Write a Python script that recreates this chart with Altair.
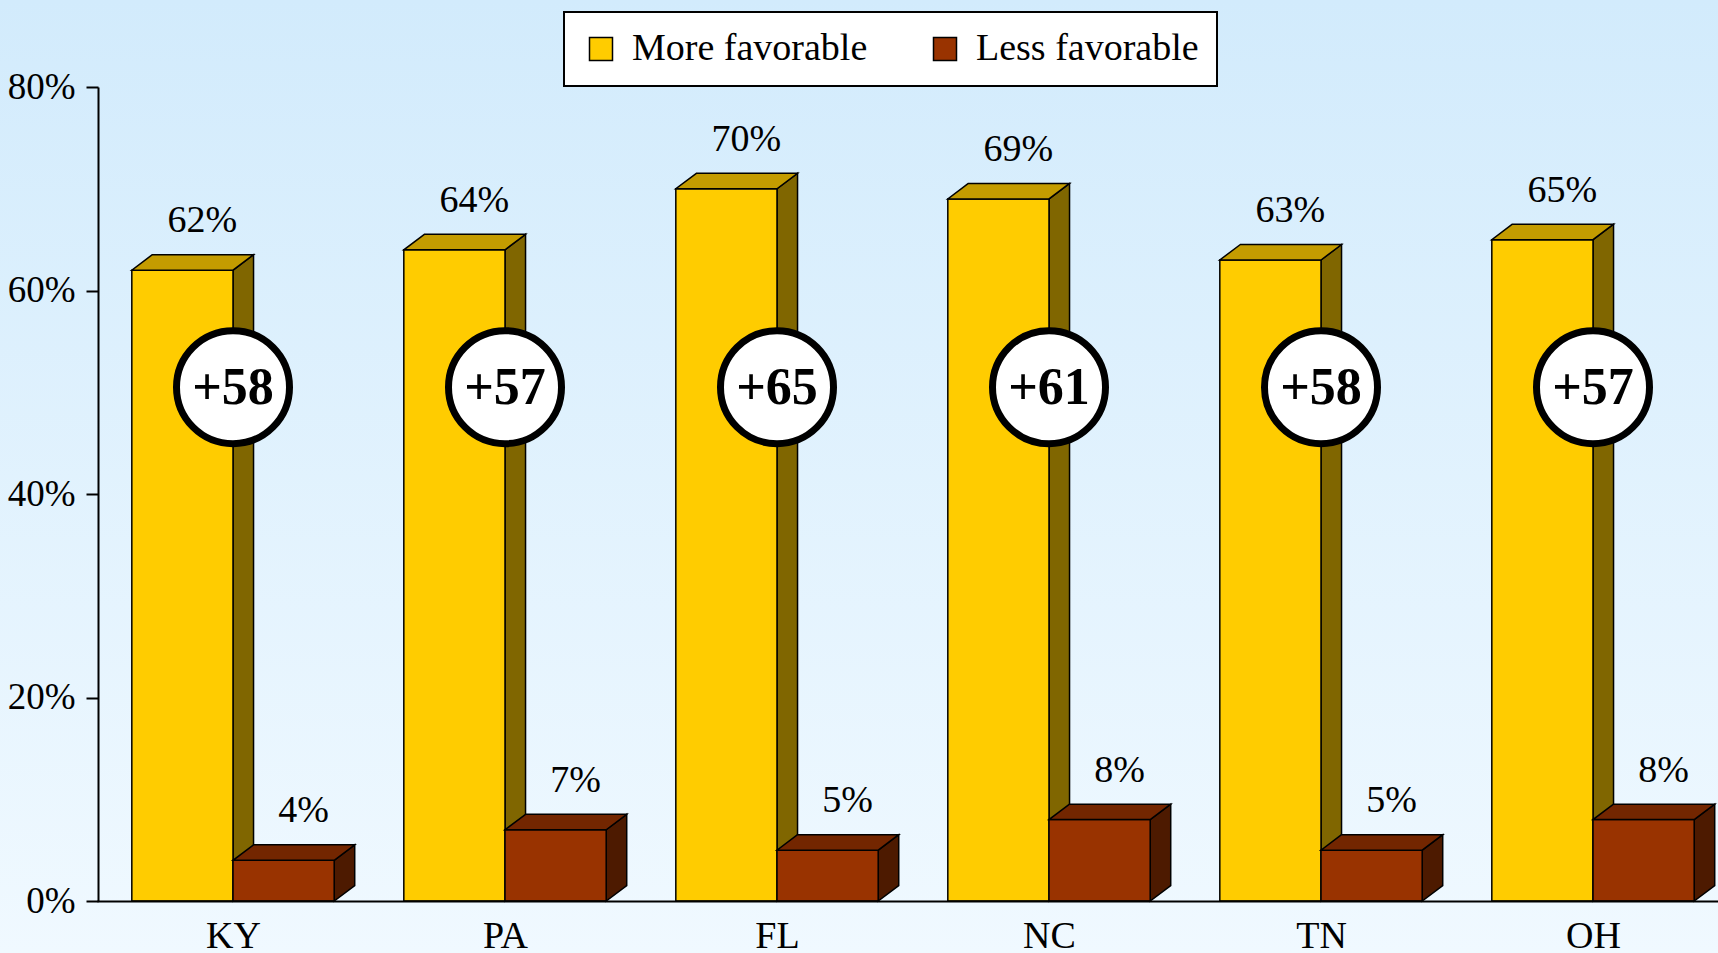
import json

import altair as alt
import pandas as pd

# ---- data -------------------------------------------------------------
states = ["KY", "PA", "FL", "NC", "TN", "OH"]
more_favorable = [62, 64, 70, 69, 63, 65]
less_favorable = [4, 7, 5, 8, 5, 8]
series_names = ["More favorable", "Less favorable"]

# ---- styling / layout constants ---------------------------------------
FONT = "Liberation Serif"
FRONT = ["#FFCC00", "#993300"]
TOP = ["#C49C00", "#732600"]
SIDE = ["#806600", "#4D1A00"]
BAR_W = 0.372        # width of one bar, in state slots
DEPTH_X = 0.0755     # horizontal depth of the 3-D boxes, in state slots
DEPTH_Y = 1.52       # vertical depth of the 3-D boxes, in percentage points
BADGE_LEVEL = 50.5   # height of the net-difference badges

W, H = 1620, 814

rows = []
for i, st in enumerate(states):
    rows.append({"state": st, "slot": i, "series": series_names[0], "side": 0,
                 "pct": more_favorable[i]})
    rows.append({"state": st, "slot": i, "series": series_names[1], "side": 1,
                 "pct": less_favorable[i]})
bars = pd.DataFrame(rows)

badges = pd.DataFrame({"state": states, "slot": list(range(len(states))),
                       "more": more_favorable, "less": less_favorable})

XSCALE = alt.Scale(domain=[0, len(states)], range=[-1, 1631], nice=False, zero=False)
YSCALE = alt.Scale(domain=[0, 80], nice=False, zero=True)

XAXIS = alt.Axis(
    values=[i + 0.5 for i in range(len(states))],
    labelExpr=json.dumps(states) + "[floor(datum.value)]",
    ticks=False, tickSize=0, labelPadding=16, labelFontSize=38, labelFont=FONT,
    labelColor="black", labelFlush=False, domainColor="black", domainWidth=2,
    grid=False, title=None, zindex=1,
)
YAXIS = alt.Axis(
    values=[0, 20, 40, 60, 80], labelExpr="datum.value + '%'",
    tickSize=12, tickWidth=2, tickColor="black", labelPadding=11,
    labelFontSize=37, labelFont=FONT, labelColor="black", domainColor="black",
    domainWidth=2, grid=False, title=None, zindex=1,
)


def xq(field):
    return alt.X(f"{field}:Q", scale=XSCALE, axis=XAXIS)


def yq(field):
    return alt.Y(f"{field}:Q", scale=YSCALE, axis=YAXIS)


def by_series(colors):
    return alt.condition(alt.datum.side == 0, alt.value(colors[0]), alt.value(colors[1]))


base = alt.Chart(bars).transform_calculate(
    x0=f"datum.slot + 0.5 - {BAR_W} + datum.side * {BAR_W}",
    base="0",
    key="datum.state + '-' + datum.series",
).transform_calculate(
    x1=f"datum.x0 + {BAR_W}",
    xc=f"datum.x0 + {BAR_W} / 2",
)

# depth faces: two edges per face (front edge k=0, back edge k=1)
faces = base.transform_calculate(e0="0", e1="1").transform_fold(
    ["e0", "e1"], as_=["edge", "k"]
).transform_calculate(
    xa=f"datum.x0 + datum.k * {DEPTH_X}",
    xb=f"datum.x1 + datum.k * {DEPTH_X}",
    yt=f"datum.pct + datum.k * {DEPTH_Y}",
    yb=f"datum.k * {DEPTH_Y}",
)

sides = faces.mark_area(orient="vertical", stroke="black", strokeWidth=1.5,
                        strokeJoin="miter").encode(
    x=xq("xb"), y=yq("yt"), y2="yb:Q", detail="key:N", fill=by_series(SIDE),
)

tops = faces.mark_area(orient="horizontal", stroke="black", strokeWidth=1.5,
                       strokeJoin="miter").encode(
    y=yq("yt"), x=xq("xa"), x2="xb:Q", detail="key:N", fill=by_series(TOP),
)

fronts = base.mark_rect(stroke="black", strokeWidth=1.5).encode(
    x=xq("x0"),
    x2="x1:Q",
    y=yq("pct"),
    y2="base:Q",
    fill=alt.Fill("series:N", scale=alt.Scale(domain=series_names, range=FRONT),
                  legend=alt.Legend(
                      orient="none", legendX=466, legendY=-75, direction="horizontal",
                      title=None, labelFont=FONT, labelFontSize=38, labelColor="black",
                      labelLimit=400, labelOffset=12, columnPadding=58,
                      symbolType="square", symbolSize=529, symbolStrokeColor="black",
                      symbolStrokeWidth=1.5, symbolOpacity=1, padding=18,
                      fillColor="white", strokeColor="black", zindex=2)),
)

value_labels = base.transform_calculate(
    txt="datum.pct + '%'"
).mark_text(font=FONT, fontSize=38, baseline="alphabetic", align="center",
            dx=20, dy=-38, color="black").encode(
    x=xq("xc"), y=yq("pct"), text="txt:N",
)

badge_base = alt.Chart(badges).transform_calculate(
    cx="datum.slot + 0.5",
    level=str(BADGE_LEVEL),
    net="'+' + (datum.more - datum.less)",
)

badge_rings = badge_base.mark_point(
    shape="circle", filled=True, fill="white", stroke="black", strokeWidth=7,
    size=12769, opacity=1,
).encode(x=xq("cx"), y=yq("level"))

badge_text = badge_base.mark_text(
    font=FONT, fontSize=52, fontWeight="bold", baseline="middle", align="center",
    dy=1, color="black",
).encode(x=xq("cx"), y=yq("level"), text="net:N")

backdrop = alt.Chart(pd.DataFrame({"bg": [0]})).mark_rect(
    color=alt.LinearGradient(
        gradient="linear", x1=0, x2=0, y1=0, y2=1,
        stops=[alt.GradientStop(offset=0, color="#D2EBFC"),
               alt.GradientStop(offset=1, color="#F0F9FF")],
    )
).encode(x=alt.value(-98), x2=alt.value(W), y=alt.value(-87), y2=alt.value(H + 52))

chart = alt.layer(
    backdrop, sides, fronts, tops, value_labels, badge_rings, badge_text
).properties(
    width=W, height=H,
    padding={"left": 98, "top": 87, "right": 0, "bottom": 52},
    autosize=alt.AutoSizeParams(type="none"),
).configure_view(stroke=None).configure_legend(strokeWidth=2)

chart.save("out.html", embed_options={"renderer": "svg", "actions": False})
